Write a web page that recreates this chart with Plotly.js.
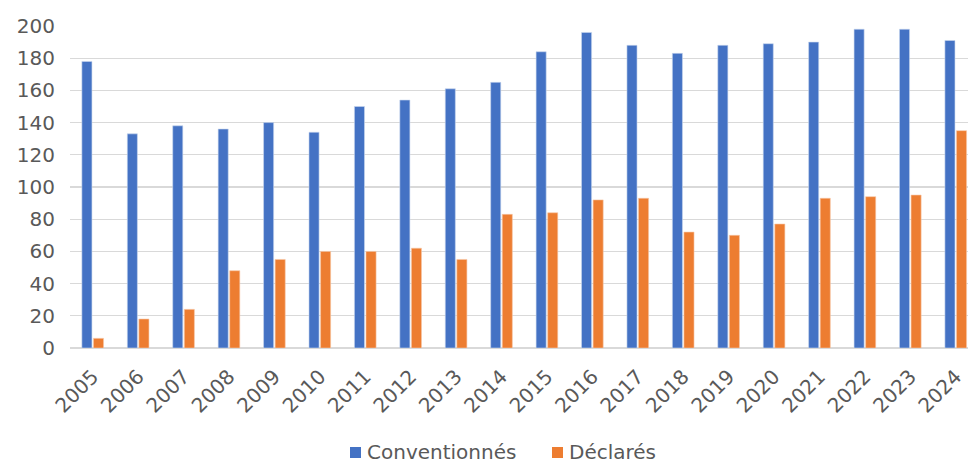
<!DOCTYPE html>
<html>
<head>
<meta charset="utf-8">
<script src="https://cdn.plot.ly/plotly-3.0.1.min.js"></script>
<style>
html,body{margin:0;padding:0;background:#fff;overflow:hidden;}
#chart{width:968px;height:466px;}
</style>
</head>
<body>
<div id="chart"></div>
<script>
var years = ['2005','2006','2007','2008','2009','2010','2011','2012','2013','2014','2015','2016','2017','2018','2019','2020','2021','2022','2023','2024'];
var conventionnes = [178,133,138,136,140,134,150,154,161,165,184,196,188,183,188,189,190,198,198,191];
var declares = [6,18,24,48,55,60,60,62,55,83,84,92,93,72,70,77,93,94,95,135];
var yTicks = [0,20,40,60,80,100,120,140,160,180,200];
var seriesNames = ['Conventionnés','Déclarés'];
var seriesColors = ['#4472C4','#ED7D31'];

var traces = [
  {type:'bar', name:seriesNames[0], x:years, y:conventionnes,
   marker:{color:seriesColors[0], line:{color:'#c9d6ee', width:0.6}}},
  {type:'bar', name:seriesNames[1], x:years, y:declares,
   marker:{color:seriesColors[1], line:{color:'#f6c8a8', width:0.6}}}
];

// manual legend (paper coordinates relative to plot area: left 70px, width 898px, bottom 348px, height 322px)
function px2x(p){ return (p-70)/898; }
function px2y(p){ return (348-p)/322; }
var legendLeft = [350, 552];
var shapes = [], annotations = [];
for (var i=0;i<seriesNames.length;i++){
  shapes.push({type:'rect', xref:'paper', yref:'paper',
    x0:px2x(legendLeft[i]), x1:px2x(legendLeft[i]+11),
    y0:px2y(458), y1:px2y(447),
    fillcolor:seriesColors[i], line:{width:0}});
  annotations.push({xref:'paper', yref:'paper', x:px2x(legendLeft[i]+16), y:px2y(452),
    xanchor:'left', yanchor:'middle', showarrow:false, text:seriesNames[i],
    borderpad:0, font:{size:20, color:'#595959'}});
}

var layout = {
  width:968, height:466,
  margin:{l:70, r:0, t:26, b:118, autoexpand:false},
  paper_bgcolor:'#fff', plot_bgcolor:'#fff',
  font:{family:'DejaVu Sans, Verdana, sans-serif', size:20, color:'#595959'},
  barmode:'group', bargap:0.49, bargroupgap:0.13,
  showlegend:false,
  shapes:shapes, annotations:annotations,
  xaxis:{type:'category', range:[-0.5,19.27], tickangle:-45, showgrid:false, automargin:false,
         zeroline:false, showline:false, ticks:'outside', ticklen:8, tickcolor:'rgba(0,0,0,0)',
         tickfont:{size:20, color:'#595959'}, fixedrange:true},
  yaxis:{range:[0,200], tickvals:yTicks, showgrid:true, gridcolor:'#D9D9D9', gridwidth:1.3, automargin:false,
         zeroline:true, zerolinecolor:'#D9D9D9', zerolinewidth:1.3, showline:false,
         ticks:'', ticklabelstandoff:14, tickfont:{size:20, color:'#595959'}, fixedrange:true}
};

Plotly.newPlot('chart', traces, layout, {displayModeBar:false, staticPlot:true});
</script>
</body>
</html>
